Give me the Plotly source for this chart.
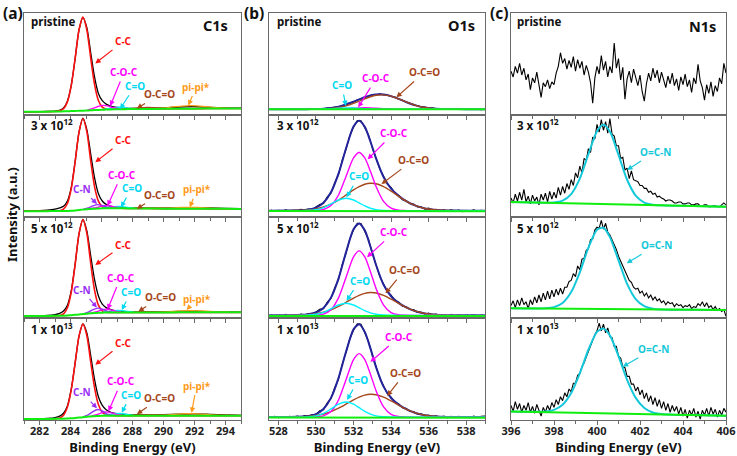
import plotly.graph_objects as go

FONT = "Noto Sans"

# ------------------------------------------------------------------ labels
SAMPLES = ["pristine", "3 x 10<sup>12</sup>", "5 x 10<sup>12</sup>", "1 x 10<sup>13</sup>"]
CORE_LEVELS = ["C1s", "O1s", "N1s"]
PANEL_TAGS = ["(a)", "(b)", "(c)"]
X_TITLE = "Binding Energy (eV)"
Y_TITLE = "Intensity (a.u.)"

# ------------------------------------------------------------------ C1s
C1S_X = [281, 282, 282.5, 283, 283.3, 283.55, 283.8, 284.05, 284.3, 284.55,
         284.8, 285.05, 285.3, 285.55, 285.8, 286.05, 286.3, 286.6, 287, 287.5,
         288, 289, 290, 291, 292, 293, 294, 295]

C1S_DATA_1 = [0.0, 0.002, 0.004, 0.008, 0.016, 0.04, 0.11, 0.275, 0.55, 0.845,
              0.975, 0.87, 0.615, 0.36, 0.19, 0.115, 0.08, 0.058, 0.045, 0.038,
              0.035, 0.036, 0.04, 0.05, 0.053, 0.047, 0.04, 0.037]
C1S_CC_1 = [0.0, 0.001, 0.002, 0.004, 0.01, 0.032, 0.103, 0.273, 0.553, 0.847,
            0.977, 0.85, 0.56, 0.283, 0.117, 0.049, 0.029, 0.026, 0.027, 0.028,
            0.029, 0.03, 0.031, 0.032, 0.033, 0.034, 0.034, 0.035]
C1S_BG_1 = [0.0, 0.001, 0.002, 0.003, 0.004, 0.005, 0.006, 0.008, 0.009, 0.011,
            0.012, 0.014, 0.016, 0.018, 0.02, 0.022, 0.023, 0.025, 0.027, 0.028,
            0.029, 0.03, 0.031, 0.032, 0.033, 0.034, 0.034, 0.035]

C1S_DATA_2 = [0.027, 0.03, 0.035, 0.045, 0.058, 0.075, 0.13, 0.27, 0.54, 0.84,
              0.985, 0.87, 0.62, 0.37, 0.205, 0.13, 0.095, 0.075, 0.065, 0.058,
              0.055, 0.054, 0.056, 0.06, 0.062, 0.058, 0.053, 0.05]
C1S_CC_2 = [0.025, 0.025, 0.025, 0.026, 0.029, 0.046, 0.104, 0.258, 0.535, 0.841,
            0.981, 0.849, 0.55, 0.279, 0.129, 0.073, 0.058, 0.055, 0.055, 0.054,
            0.053, 0.052, 0.051, 0.05, 0.05, 0.049, 0.049, 0.048]
C1S_BG_2 = [0.025, 0.025, 0.025, 0.026, 0.026, 0.027, 0.028, 0.03, 0.033, 0.037,
            0.041, 0.045, 0.048, 0.051, 0.053, 0.054, 0.055, 0.055, 0.055, 0.054,
            0.053, 0.052, 0.051, 0.05, 0.05, 0.049, 0.049, 0.048]

C1S_DATA_3 = [-0.005, -0.003, 0.0, 0.008, 0.02, 0.045, 0.105, 0.255, 0.53, 0.84,
              0.99, 0.875, 0.62, 0.37, 0.2, 0.115, 0.08, 0.058, 0.045, 0.038,
              0.034, 0.033, 0.035, 0.04, 0.042, 0.038, 0.034, 0.032]
C1S_CC_3 = [-0.007, -0.007, -0.006, -0.005, -0.001, 0.016, 0.078, 0.239, 0.526, 0.843,
            0.988, 0.851, 0.542, 0.261, 0.105, 0.047, 0.032, 0.03, 0.03, 0.03,
            0.03, 0.03, 0.03, 0.031, 0.031, 0.031, 0.031, 0.031]
C1S_BG_3 = [-0.007, -0.007, -0.006, -0.005, -0.004, -0.003, -0.001, 0.002, 0.005, 0.009,
            0.013, 0.017, 0.021, 0.024, 0.026, 0.028, 0.029, 0.03, 0.03, 0.03,
            0.03, 0.03, 0.03, 0.031, 0.031, 0.031, 0.031, 0.031]

C1S_DATA_4 = [-0.02, -0.018, -0.014, -0.005, 0.01, 0.04, 0.115, 0.29, 0.56, 0.835,
              0.962, 0.87, 0.64, 0.39, 0.21, 0.12, 0.075, 0.05, 0.035, 0.027,
              0.023, 0.022, 0.024, 0.03, 0.033, 0.028, 0.022, 0.018]
C1S_CC_4 = [-0.02, -0.02, -0.019, -0.017, -0.008, 0.02, 0.104, 0.284, 0.559, 0.837,
            0.959, 0.845, 0.574, 0.305, 0.129, 0.049, 0.023, 0.016, 0.015, 0.015,
            0.015, 0.015, 0.015, 0.015, 0.015, 0.015, 0.015, 0.015]
C1S_BG_4 = [-0.02, -0.02, -0.019, -0.018, -0.017, -0.016, -0.014, -0.012, -0.009, -0.005,
            -0.001, 0.003, 0.006, 0.009, 0.011, 0.013, 0.014, 0.015, 0.015, 0.015,
            0.015, 0.015, 0.015, 0.015, 0.015, 0.015, 0.015, 0.015]

C1S_CN_X = [284.8, 285.15, 285.45, 285.75, 286.05, 286.35, 286.7]
C1S_CN_2 = [0.043, 0.058, 0.079, 0.093, 0.083, 0.067, 0.057]
C1S_CN_3 = [0.014, 0.033, 0.059, 0.075, 0.064, 0.044, 0.032]
C1S_CN_4 = [0.002, 0.024, 0.057, 0.078, 0.063, 0.034, 0.018]

C1S_COC_X_1 = [285.1, 285.5, 285.8, 286.1, 286.4, 286.7, 287.1]
C1S_COC_1 = [0.019, 0.038, 0.057, 0.067, 0.061, 0.045, 0.032]
C1S_COC_X = [285.3, 285.7, 286.0, 286.3, 286.6, 286.9, 287.3]
C1S_COC_2 = [0.05, 0.063, 0.077, 0.085, 0.078, 0.066, 0.057]
C1S_COC_3 = [0.023, 0.038, 0.055, 0.064, 0.057, 0.043, 0.032]
C1S_COC_4 = [0.008, 0.025, 0.044, 0.054, 0.046, 0.03, 0.017]

C1S_CO_X = [286.1, 286.5, 286.8, 287.1, 287.4, 287.7, 288.1]
C1S_CO_1 = [0.024, 0.034, 0.043, 0.048, 0.044, 0.038, 0.032]
C1S_CO_2 = [0.058, 0.065, 0.072, 0.075, 0.071, 0.064, 0.056]
C1S_CO_3 = [0.033, 0.04, 0.047, 0.05, 0.047, 0.04, 0.033]
C1S_CO_4 = [0.018, 0.026, 0.034, 0.037, 0.034, 0.026, 0.018]

C1S_OCO_X = [287.6, 288.2, 288.6, 289.0, 289.4, 289.8, 290.4]
C1S_OCO_1 = [0.03, 0.037, 0.042, 0.046, 0.043, 0.039, 0.033]
C1S_OCO_2 = [0.055, 0.057, 0.059, 0.06, 0.059, 0.055, 0.052]
C1S_OCO_3 = [0.031, 0.034, 0.037, 0.038, 0.037, 0.034, 0.031]
C1S_OCO_4 = [0.016, 0.019, 0.023, 0.024, 0.023, 0.019, 0.016]

C1S_PI_X = [289.2, 290.0, 290.6, 291.2, 291.7, 292.2, 292.8, 293.4, 294.2]
C1S_PI_1 = [0.034, 0.041, 0.051, 0.06, 0.064, 0.061, 0.052, 0.044, 0.037]
C1S_PI_2 = [0.052, 0.055, 0.059, 0.063, 0.064, 0.063, 0.058, 0.053, 0.05]
C1S_PI_3 = [0.031, 0.036, 0.041, 0.047, 0.049, 0.047, 0.042, 0.036, 0.032]
C1S_PI_4 = [0.017, 0.021, 0.027, 0.033, 0.035, 0.033, 0.027, 0.021, 0.017]

# ------------------------------------------------------------------ O1s
O1S_X = [527.5, 528.5, 529.5, 530, 530.4, 530.8, 531.2, 531.6, 532, 532.3,
         532.6, 532.9, 533.2, 533.6, 534, 534.4, 534.8, 535.3, 535.8, 536.4,
         537, 538, 539]
O1S_RAW_X = [round(527.6 + 0.2 * i, 1) for i in range(58)]   # measured energy channels
O1S_BG_X = [527.5, 539]

O1S_RAW_1 = [0.027, 0.031, 0.024, 0.03, 0.026, 0.033, 0.028, 0.025, 0.031, 0.029,
             0.026, 0.032, 0.027, 0.034, 0.031, 0.04, 0.037, 0.049, 0.05, 0.066,
             0.072, 0.092, 0.1, 0.124, 0.13, 0.156, 0.159, 0.178, 0.174, 0.186,
             0.175, 0.174, 0.158, 0.152, 0.13, 0.122, 0.098, 0.09, 0.07, 0.066,
             0.05, 0.049, 0.036, 0.041, 0.03, 0.035, 0.027, 0.033, 0.026, 0.031,
             0.024, 0.03, 0.027, 0.033, 0.025, 0.029, 0.022, 0.03]
O1S_ENV_1 = [0.028, 0.028, 0.028, 0.029, 0.032, 0.039, 0.054, 0.076, 0.105, 0.128,
             0.151, 0.169, 0.18, 0.179, 0.162, 0.134, 0.102, 0.067, 0.045, 0.033,
             0.029, 0.028, 0.028]
O1S_OCO_1 = [0.028, 0.028, 0.028, 0.029, 0.031, 0.035, 0.045, 0.062, 0.087, 0.11,
             0.134, 0.156, 0.171, 0.175, 0.162, 0.134, 0.102, 0.067, 0.045, 0.033,
             0.029, 0.028, 0.028]
O1S_CO_1 = [0.028, 0.028, 0.028, 0.028, 0.03, 0.032, 0.037, 0.04, 0.039, 0.036,
            0.032, 0.03, 0.029, 0.028, 0.028, 0.028, 0.028, 0.028, 0.028, 0.028,
            0.028, 0.028, 0.028]
O1S_COC_1 = [0.028, 0.028, 0.028, 0.028, 0.028, 0.028, 0.03, 0.033, 0.037, 0.041,
             0.042, 0.041, 0.037, 0.033, 0.03, 0.028, 0.028, 0.028, 0.028, 0.028,
             0.028, 0.028, 0.028]
O1S_BG_1 = [0.027, 0.026]

O1S_RAW_2 = [0.036, 0.022, 0.034, 0.027, 0.04, 0.025, 0.034, 0.027, 0.044, 0.036,
             0.047, 0.041, 0.068, 0.095, 0.104, 0.172, 0.21, 0.318, 0.4, 0.555,
             0.663, 0.801, 0.892, 0.959, 0.958, 0.886, 0.812, 0.682, 0.579, 0.459,
             0.386, 0.303, 0.27, 0.211, 0.191, 0.144, 0.136, 0.103, 0.099, 0.068,
             0.07, 0.046, 0.057, 0.038, 0.043, 0.026, 0.038, 0.026, 0.039, 0.027,
             0.037, 0.021, 0.035, 0.027, 0.038, 0.023, 0.034, 0.022]
O1S_ENV_2 = [0.03, 0.031, 0.039, 0.062, 0.112, 0.22, 0.412, 0.672, 0.898, 0.958,
             0.896, 0.744, 0.569, 0.377, 0.258, 0.183, 0.129, 0.082, 0.053, 0.037,
             0.032, 0.03, 0.03]
O1S_COC_2 = [0.03, 0.03, 0.03, 0.032, 0.042, 0.083, 0.192, 0.383, 0.574, 0.63,
             0.574, 0.436, 0.28, 0.126, 0.056, 0.035, 0.031, 0.03, 0.03, 0.03,
             0.03, 0.03, 0.03]
O1S_OCO_2 = [0.03, 0.031, 0.037, 0.049, 0.068, 0.098, 0.14, 0.191, 0.244, 0.278,
             0.303, 0.313, 0.308, 0.278, 0.231, 0.178, 0.128, 0.082, 0.053, 0.037,
             0.032, 0.03, 0.03]
O1S_CO_2 = [0.03, 0.03, 0.032, 0.041, 0.062, 0.099, 0.14, 0.158, 0.14, 0.11,
            0.079, 0.055, 0.041, 0.033, 0.031, 0.03, 0.03, 0.03, 0.03, 0.03,
            0.03, 0.03, 0.03]
O1S_BG_2 = [0.027, 0.025]

O1S_RAW_3 = [0.006, -0.007, 0.004, -0.002, 0.01, -0.005, 0.004, -0.004, 0.013, 0.005,
             0.016, 0.01, 0.036, 0.062, 0.069, 0.137, 0.174, 0.284, 0.368, 0.525,
             0.642, 0.785, 0.882, 0.95, 0.948, 0.867, 0.782, 0.642, 0.529, 0.4,
             0.324, 0.243, 0.209, 0.154, 0.137, 0.094, 0.09, 0.061, 0.059, 0.03,
             0.033, 0.012, 0.023, 0.005, 0.012, -0.005, 0.008, -0.006, 0.01, -0.004,
             0.007, -0.008, 0.005, -0.003, 0.008, -0.007, 0.004, -0.008]
O1S_ENV_3 = [0.0, 0.001, 0.008, 0.029, 0.076, 0.183, 0.379, 0.65, 0.888, 0.949,
             0.877, 0.71, 0.519, 0.315, 0.197, 0.129, 0.083, 0.043, 0.019, 0.006,
             0.002, 0.0, 0.0]
O1S_COC_3 = [0.0, 0.0, 0.0, 0.002, 0.013, 0.058, 0.18, 0.391, 0.603, 0.665,
             0.603, 0.45, 0.277, 0.106, 0.029, 0.006, 0.001, 0.0, 0.0, 0.0,
             0.0, 0.0, 0.0]
O1S_OCO_3 = [0.0, 0.001, 0.006, 0.016, 0.032, 0.057, 0.092, 0.134, 0.178, 0.206,
             0.226, 0.235, 0.231, 0.206, 0.167, 0.123, 0.082, 0.043, 0.019, 0.006,
             0.002, 0.0, 0.0]
O1S_CO_3 = [0.0, 0.0, 0.002, 0.011, 0.031, 0.068, 0.107, 0.125, 0.107, 0.078,
            0.048, 0.025, 0.011, 0.003, 0.001, 0.0, 0.0, 0.0, 0.0, 0.0,
            0.0, 0.0, 0.0]
O1S_BG_3 = [-0.006, -0.007]

O1S_RAW_4 = [-0.004, 0.007, -0.006, 0.005, -0.003, 0.009, -0.002, 0.01, 0.001, 0.015,
             0.008, 0.027, 0.025, 0.066, 0.076, 0.148, 0.19, 0.306, 0.392, 0.547,
             0.665, 0.806, 0.897, 0.962, 0.958, 0.87, 0.781, 0.641, 0.527, 0.401,
             0.323, 0.242, 0.207, 0.151, 0.138, 0.096, 0.091, 0.058, 0.057, 0.031,
             0.034, 0.012, 0.021, 0.003, 0.013, -0.004, 0.01, -0.005, 0.008, -0.006,
             0.009, -0.003, 0.006, -0.007, 0.01, -0.002, 0.007, 0.012]
O1S_ENV_4 = [0.0, 0.001, 0.008, 0.031, 0.084, 0.198, 0.402, 0.674, 0.905, 0.958,
             0.879, 0.709, 0.516, 0.314, 0.197, 0.129, 0.083, 0.043, 0.019, 0.006,
             0.002, 0.0, 0.0]
O1S_COC_4 = [0.0, 0.0, 0.0, 0.002, 0.013, 0.057, 0.177, 0.385, 0.594, 0.655,
             0.594, 0.443, 0.272, 0.105, 0.029, 0.006, 0.001, 0.0, 0.0, 0.0,
             0.0, 0.0, 0.0]
O1S_OCO_4 = [0.0, 0.001, 0.006, 0.016, 0.032, 0.057, 0.092, 0.134, 0.178, 0.206,
             0.226, 0.235, 0.231, 0.206, 0.167, 0.123, 0.082, 0.043, 0.019, 0.006,
             0.002, 0.0, 0.0]
O1S_CO_4 = [0.0, 0.0, 0.002, 0.013, 0.039, 0.084, 0.133, 0.155, 0.133, 0.097,
            0.059, 0.031, 0.013, 0.003, 0.001, 0.0, 0.0, 0.0, 0.0, 0.0,
            0.0, 0.0, 0.0]
O1S_BG_4 = [-0.004, -0.006]

# ------------------------------------------------------------------ N1s
N1S_RAW_X = [round(396 + 0.1 * i, 1) for i in range(101)]   # measured energy channels
N1S_FIT_X = [396, 397, 397.6, 398, 398.4, 398.8, 399.2, 399.6, 400, 400.3,
             400.6, 401, 401.4, 401.8, 402.2, 402.6, 403, 403.6, 404.5, 406]
N1S_BG_X = [396, 406]

N1S_RAW_1 = [0.42, 0.36, 0.47, 0.40, 0.50, 0.38, 0.45, 0.33, 0.39, 0.23,
             0.35, 0.30, 0.41, 0.27, 0.15, 0.30, 0.26, 0.33, 0.24, 0.31,
             0.28, 0.40, 0.47, 0.61, 0.50, 0.55, 0.44, 0.53, 0.46, 0.57,
             0.42, 0.54, 0.45, 0.52, 0.38, 0.48, 0.41, 0.30, 0.09, 0.35,
             0.47, 0.39, 0.58, 0.43, 0.52, 0.36, 0.47, 0.40, 0.71, 0.45,
             0.55, 0.33, 0.46, 0.13, 0.34, 0.42, 0.30, 0.44, 0.36, 0.27,
             0.38, 0.21, 0.11, 0.29, 0.40, 0.32, 0.45, 0.35, 0.43, 0.30,
             0.41, 0.33, 0.25, 0.37, 0.29, 0.40, 0.27, 0.34, 0.22, 0.36,
             0.28, 0.39, 0.26, 0.33, 0.20, 0.35, 0.29, 0.49, 0.32, 0.25,
             0.12, 0.28, 0.19, 0.31, 0.16, 0.27, 0.21, 0.35, 0.29, 0.50,
             0.40]

N1S_RAW_2 = [0.16, 0.11, 0.2, 0.13, 0.22, 0.14, 0.25, 0.12, 0.18, 0.1,
             0.19, 0.13, 0.17, 0.09, 0.2, 0.14, 0.21, 0.12, 0.23, 0.15,
             0.22, 0.16, 0.27, 0.19, 0.28, 0.21, 0.31, 0.25, 0.35, 0.29,
             0.42, 0.37, 0.49, 0.42, 0.57, 0.55, 0.67, 0.63, 0.79, 0.77,
             0.92, 0.84, 0.97, 0.86, 0.95, 0.83, 0.98, 0.82, 0.8, 0.7,
             0.7, 0.57, 0.58, 0.45, 0.47, 0.36, 0.44, 0.35, 0.34, 0.33,
             0.29, 0.29, 0.26, 0.26, 0.22, 0.23, 0.2, 0.21, 0.17, 0.18,
             0.16, 0.15, 0.13, 0.14, 0.14, 0.13, 0.11, 0.11, 0.12, 0.12,
             0.1, 0.1, 0.11, 0.11, 0.09, 0.09, 0.1, 0.1, 0.08, 0.08,
             0.09, 0.09, 0.07, 0.07, 0.08, 0.08, 0.07, 0.07, 0.09, 0.11,
             0.09]
N1S_FIT_2 = [0.12, 0.115, 0.113, 0.115, 0.133, 0.201, 0.36, 0.613, 0.85, 0.916,
             0.847, 0.606, 0.349, 0.186, 0.114, 0.092, 0.086, 0.082, 0.078, 0.07]
N1S_BG_2 = [0.12, 0.07]

N1S_RAW_3 = [0.1, 0.15, 0.08, 0.16, 0.1, 0.18, 0.11, 0.14, 0.07, 0.16,
             0.11, 0.19, 0.13, 0.21, 0.14, 0.23, 0.16, 0.25, 0.17, 0.26,
             0.19, 0.27, 0.21, 0.28, 0.22, 0.29, 0.29, 0.35, 0.36, 0.43,
             0.4, 0.51, 0.47, 0.58, 0.59, 0.67, 0.69, 0.78, 0.79, 0.88,
             0.91, 0.9, 0.98, 0.89, 0.95, 0.86, 0.83, 0.78, 0.73, 0.68,
             0.61, 0.56, 0.5, 0.45, 0.41, 0.36, 0.34, 0.29, 0.27, 0.28,
             0.23, 0.25, 0.2, 0.23, 0.18, 0.21, 0.16, 0.19, 0.15, 0.17,
             0.13, 0.15, 0.11, 0.14, 0.12, 0.13, 0.09, 0.12, 0.1, 0.11,
             0.08, 0.1, 0.09, 0.11, 0.07, 0.09, 0.08, 0.12, 0.1, 0.14,
             0.09, 0.13, 0.08, 0.1, 0.06, 0.09, 0.05, 0.07, 0.04, 0.06,
             -0.01]
N1S_FIT_3 = [0.072, 0.07, 0.073, 0.085, 0.128, 0.24, 0.443, 0.698, 0.884, 0.904,
             0.807, 0.568, 0.325, 0.168, 0.094, 0.068, 0.06, 0.058, 0.057, 0.054]
N1S_BG_3 = [0.072, 0.054]

N1S_RAW_4 = [0.12, 0.06, 0.16, 0.08, 0.14, 0.05, 0.12, 0.07, 0.15, 0.05,
             0.11, 0.04, 0.13, 0.06, 0.01, 0.1, 0.05, 0.12, 0.07, 0.15,
             0.1, 0.18, 0.13, 0.21, 0.17, 0.25, 0.21, 0.29, 0.26, 0.35,
             0.35, 0.43, 0.45, 0.52, 0.56, 0.62, 0.68, 0.73, 0.79, 0.85,
             0.89, 0.97, 0.89, 0.96, 0.87, 0.92, 0.83, 0.82, 0.73, 0.73,
             0.63, 0.61, 0.52, 0.51, 0.42, 0.42, 0.34, 0.34, 0.27, 0.31,
             0.23, 0.28, 0.19, 0.25, 0.16, 0.22, 0.13, 0.2, 0.11, 0.18,
             0.09, 0.16, 0.07, 0.14, 0.05, 0.12, 0.06, 0.11, 0.03, 0.1,
             0.01, 0.08, -0.01, 0.07, 0.02, 0.09, 0.0, 0.06, -0.02, 0.07,
             0.02, 0.09, 0.01, 0.1, 0.03, 0.08, 0.0, 0.07, 0.02, 0.09,
             0.05]
N1S_FIT_4 = [0.057, 0.054, 0.057, 0.075, 0.128, 0.249, 0.452, 0.695, 0.879, 0.913,
             0.843, 0.629, 0.384, 0.198, 0.094, 0.048, 0.032, 0.025, 0.021, 0.015]
N1S_BG_4 = [0.057, 0.015]

# ------------------------------------------------------------------ styles
BLACK = "#000000"
RED = "#FF1010"
MAG = "#FF00FF"
CYAN = "#00F0FF"
CYAN_T = "#00D8F0"
BROWN = "#A5471C"
ORANGE = "#FF9A1A"
PURPLE = "#9A30F5"
GREEN = "#10EE10"
NAVY = "#23239C"
NCYAN = "#14C8DA"
FRAME = "#6A6A6A"

W, H = 737, 456
MT, MB = 13, 36
COL_DOM = [[24 / W, 241 / W], [269 / W, 485 / W], [511 / W, 726 / W]]
ROW_DOM = [[0.75, 1.0], [0.5, 0.75], [0.25, 0.5], [0.0, 0.25]]
COL_RANGE = [[281, 295], [527.5, 539], [396, 406]]
COL_TICK0 = [282, 528, 396]
YR = [-0.03, 1.02]

fig = go.Figure()


def ax_ids(n):
    return ("x" if n == 1 else f"x{n}"), ("y" if n == 1 else f"y{n}")


def line(n, x, y, color, width, smooth=True):
    xa, ya = ax_ids(n)
    ln = dict(color=color, width=width)
    if smooth:
        ln.update(shape="spline", smoothing=0.7)
    fig.add_trace(go.Scatter(x=x, y=y, mode="lines", line=ln, xaxis=xa, yaxis=ya,
                             showlegend=False, hoverinfo="skip"))


# ---- C1s column (panels 1,4,7,10)
C1S_ROWS = [
    (C1S_DATA_1, C1S_CC_1, C1S_BG_1, None, (C1S_COC_X_1, C1S_COC_1), C1S_CO_1, C1S_OCO_1, C1S_PI_1),
    (C1S_DATA_2, C1S_CC_2, C1S_BG_2, C1S_CN_2, (C1S_COC_X, C1S_COC_2), C1S_CO_2, C1S_OCO_2, C1S_PI_2),
    (C1S_DATA_3, C1S_CC_3, C1S_BG_3, C1S_CN_3, (C1S_COC_X, C1S_COC_3), C1S_CO_3, C1S_OCO_3, C1S_PI_3),
    (C1S_DATA_4, C1S_CC_4, C1S_BG_4, C1S_CN_4, (C1S_COC_X, C1S_COC_4), C1S_CO_4, C1S_OCO_4, C1S_PI_4),
]
for r, (dat, cc, bg, cn, coc, co, oco, pi) in enumerate(C1S_ROWS):
    n = r * 3 + 1
    line(n, C1S_X, dat, BLACK, 1.3)
    line(n, C1S_X, cc, RED, 1.6)
    line(n, C1S_PI_X, pi, ORANGE, 1.3)
    line(n, C1S_OCO_X, oco, BROWN, 1.3)
    line(n, C1S_CO_X, co, CYAN, 1.4)
    line(n, coc[0], coc[1], MAG, 1.4)
    if cn is not None:
        line(n, C1S_CN_X, cn, PURPLE, 1.4)
    line(n, C1S_X, bg, GREEN, 2.0)

# ---- O1s column (panels 2,5,8,11)
O1S_ROWS = [
    (O1S_RAW_1, O1S_ENV_1, O1S_COC_1, O1S_OCO_1, O1S_CO_1, O1S_BG_1),
    (O1S_RAW_2, O1S_ENV_2, O1S_COC_2, O1S_OCO_2, O1S_CO_2, O1S_BG_2),
    (O1S_RAW_3, O1S_ENV_3, O1S_COC_3, O1S_OCO_3, O1S_CO_3, O1S_BG_3),
    (O1S_RAW_4, O1S_ENV_4, O1S_COC_4, O1S_OCO_4, O1S_CO_4, O1S_BG_4),
]
for r, (raw, env, coc, oco, co, bg) in enumerate(O1S_ROWS):
    n = r * 3 + 2
    line(n, O1S_RAW_X, raw, BLACK, 1.1, smooth=False)
    line(n, O1S_X, env, NAVY, 2.0)
    line(n, O1S_X, oco, BROWN, 1.4)
    line(n, O1S_X, coc, MAG, 1.4)
    line(n, O1S_X, co, CYAN, 1.4)
    line(n, O1S_BG_X, bg, GREEN, 2.0, smooth=False)

# ---- N1s column (panels 3,6,9,12)
N1S_ROWS = [
    (N1S_RAW_1, None, None),
    (N1S_RAW_2, N1S_FIT_2, N1S_BG_2),
    (N1S_RAW_3, N1S_FIT_3, N1S_BG_3),
    (N1S_RAW_4, N1S_FIT_4, N1S_BG_4),
]
for r, (raw, fit, bg) in enumerate(N1S_ROWS):
    n = r * 3 + 3
    line(n, N1S_RAW_X, raw, BLACK, 1.1, smooth=False)
    if fit is not None:
        line(n, N1S_FIT_X, fit, NCYAN, 2.0)
        line(n, N1S_BG_X, bg, GREEN, 2.0, smooth=False)

# ---- axes
layout = {}
for r in range(4):
    for c in range(3):
        n = r * 3 + c + 1
        xa, ya = ax_ids(n)
        xk = "xaxis" if n == 1 else f"xaxis{n}"
        yk = "yaxis" if n == 1 else f"yaxis{n}"
        xd = dict(domain=COL_DOM[c], range=COL_RANGE[c], anchor=ya, automargin=False,
                  showline=True, mirror=True, linecolor=FRAME, linewidth=1.4,
                  ticks="outside", ticklen=4, tickwidth=1, tickcolor=FRAME,
                  tick0=COL_TICK0[c], dtick=2, ticklabelstandoff=-3,
                  minor=dict(ticks="outside", ticklen=3, tickwidth=1, tickcolor=FRAME,
                             tick0=COL_TICK0[c] + 1, dtick=2),
                  showgrid=False, zeroline=False, showticklabels=(r == 3),
                  tickfont=dict(family=FONT, size=11, color="#222222", weight="bold"))
        if r == 3:
            xd["title"] = dict(text=X_TITLE, standoff=0,
                               font=dict(family=FONT, size=13, color="#111111", weight="bold"))
        layout[xk] = xd
        layout[yk] = dict(domain=ROW_DOM[r], range=YR, anchor=xa, automargin=False,
                          showline=True, mirror=True, linecolor=FRAME, linewidth=1.4,
                          ticks="", showticklabels=False, showgrid=False, zeroline=False)

# ---- annotations
PH = H - MT - MB


def py(p):
    return (H - MB - p) / PH


anns = []
# sample labels in each panel
for r, s in enumerate(SAMPLES):
    for c, xp in enumerate([29, 275, 515]):
        anns.append(dict(xref="paper", yref="paper", x=xp / W, y=py([21, 125, 227, 328][r]),
                         xanchor="left", yanchor="middle", showarrow=False,
                         text=f"<b>{s}</b>",
                         font=dict(family=FONT, size=11.5, color="#111111")))
# core level names
for c, (name, xr, yy) in enumerate(zip(CORE_LEVELS, [230, 477, 718], [25, 25, 26])):
    anns.append(dict(xref="paper", yref="paper", x=xr / W, y=py(yy), xanchor="right",
                     yanchor="middle", showarrow=False, text=f"<b>{name}</b>",
                     font=dict(family=FONT, size=14.5, color="#111111")))
# panel tags
for tag, xc in zip(PANEL_TAGS, [12.5, 254, 499]):
    anns.append(dict(xref="paper", yref="paper", x=xc / W, y=py(12.5), xanchor="center",
                     yanchor="middle", showarrow=False, text=f"<b>{tag}</b>",
                     font=dict(family=FONT, size=15.5, color="#111111")))
# y title
anns.append(dict(xref="paper", yref="paper", x=12 / W, y=py(215), xanchor="center",
                 yanchor="middle", showarrow=False, textangle=-90, text=f"<b>{Y_TITLE}</b>",
                 font=dict(family=FONT, size=13, color="#111111")))

# peak labels with arrows: (panel, text, color, tip_x, tip_y, dx_px, dy_px)
PEAK_LABELS = [
    (1, "C-C", RED, 285.6, 0.5, 28, -22),
    (1, "C-O-C", MAG, 286.56, 0.06, 14, -34),
    (1, "C=O", CYAN_T, 287.2, 0.03, 15, -23),
    (1, "O-C=O", BROWN, 288.28, 0.035, 23, -14),
    (1, "pi-pi*", ORANGE, 291.6, 0.065, 8, -19),
    (4, "C-C", RED, 285.6, 0.53, 28, -22),
    (4, "C-N", PURPLE, 285.71, 0.099, -15, -15),
    (4, "C-O-C", MAG, 286.39, 0.08, 14, -31),
    (4, "C=O", CYAN_T, 287.25, 0.065, 11, -19),
    (4, "O-C=O", BROWN, 288.28, 0.05, 23, -14),
    (4, "pi-pi*", ORANGE, 291.7, 0.065, 7, -18),
    (7, "C-C", RED, 285.6, 0.52, 28, -20),
    (7, "C-N", PURPLE, 285.7, 0.08, -15, -18),
    (7, "C-O-C", MAG, 286.39, 0.06, 13, -32),
    (7, "C=O", CYAN_T, 287.31, 0.055, 9, -18),
    (7, "O-C=O", BROWN, 288.38, 0.04, 22, -14),
    (7, "pi-pi*", ORANGE, 291.49, 0.055, 10, -11),
    (10, "C-C", RED, 285.6, 0.54, 28, -22),
    (10, "C-N", PURPLE, 285.71, 0.09, -15, -16),
    (10, "C-O-C", MAG, 286.45, 0.06, 13, -30),
    (10, "C=O", CYAN_T, 287.31, 0.045, 9, -18),
    (10, "O-C=O", BROWN, 288.28, 0.03, 23, -16),
    (10, "pi-pi*", ORANGE, 291.81, 0.045, 5, -27),
    (2, "C=O", CYAN_T, 531.59, 0.06, -4, -21),
    (2, "C-O-C", MAG, 532.25, 0.047, 18, -29),
    (2, "O-C=O", BROWN, 534.28, 0.15, 28, -25),
    (5, "C-O-C", MAG, 532.75, 0.56, 26, -26),
    (5, "O-C=O", BROWN, 533.49, 0.305, 32, -24),
    (5, "C=O", CYAN_T, 531.63, 0.168, 12, -21),
    (8, "C-O-C", MAG, 532.72, 0.6, 27, -25),
    (8, "O-C=O", BROWN, 533.7, 0.227, 19, -23),
    (8, "C=O", CYAN_T, 531.63, 0.151, 13, -20),
    (11, "C-O-C", MAG, 532.9, 0.57, 29, -25),
    (11, "O-C=O", BROWN, 533.79, 0.218, 18, -23),
    (11, "C=O", CYAN_T, 531.66, 0.176, 11, -20),
    (6, "O=C-N", NCYAN, 401.4, 0.45, 28, -18),
    (9, "O=C-N", NCYAN, 401.38, 0.537, 30, -18),
    (12, "O=C-N", NCYAN, 401.2, 0.52, 31, -18),
]
for n, txt, col, x, y, dx, dy in PEAK_LABELS:
    xa, ya = ax_ids(n)
    anns.append(dict(xref=xa, yref=ya, x=x, y=y, ax=dx, ay=dy, text=f"<b>{txt}</b>",
                     showarrow=True, arrowhead=2, arrowsize=0.9, arrowwidth=1.2,
                     arrowcolor=col, standoff=0, startstandoff=1,
                     font=dict(family=FONT, size=10, color=col)))

fig.update_layout(**layout)
fig.update_layout(width=W, height=H, margin=dict(l=0, r=0, t=MT, b=MB, autoexpand=False),
                  paper_bgcolor="white", plot_bgcolor="white",
                  annotations=anns, showlegend=False)

fig.write_html("out.html", config={"displayModeBar": False},
               post_script="document.body.style.margin='0';document.body.style.padding='0';")
